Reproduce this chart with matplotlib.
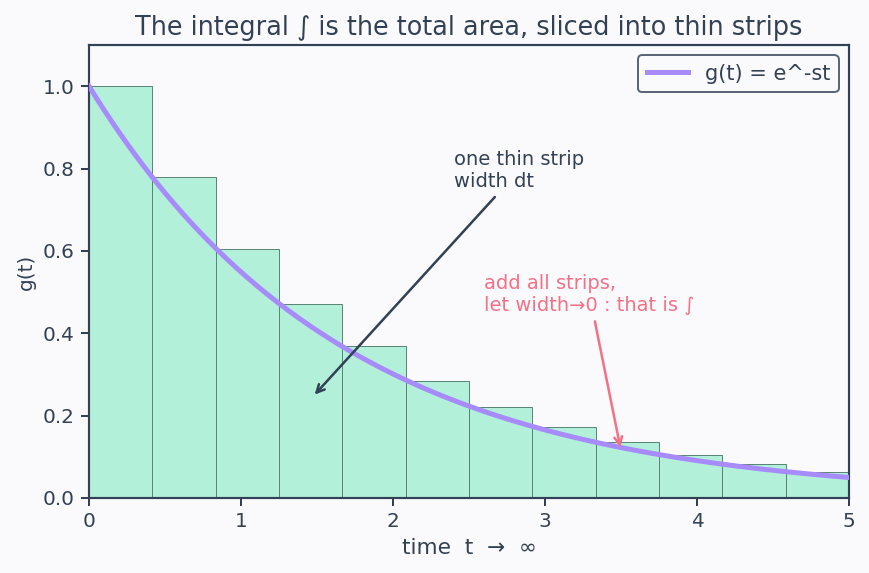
import numpy as np
import matplotlib
matplotlib.use("Agg")
import matplotlib.pyplot as plt

# strips: left edges in t and heights
strip_width = 5 / 12
strip_left = np.arange(12) * strip_width
strip_height = [1.0, 0.78, 0.605, 0.47, 0.37, 0.285, 0.222, 0.173, 0.135, 0.105, 0.082, 0.064]

# the curve g(t) = e^-st with s = 0.6
s = 0.6
t = np.linspace(0, 5, 300)
g = np.exp(-s * t)

dark = "#334155"
pink = "#f47185"
bg = "#fafafd"

fig = plt.figure(figsize=(869 / 120, 573 / 120), dpi=120, facecolor=bg)
ax = fig.add_axes([0.1024, 0.1309, 0.8746, 0.7906], facecolor=bg)

ax.bar(strip_left, strip_height, width=strip_width, align="edge",
       color="#b3f0da", edgecolor="#5b8576", linewidth=0.6, zorder=1)
ax.plot(t, g, color="#a78bfa", lw=3, label="g(t) = e^-st", zorder=3)

ax.annotate("one thin strip\nwidth dt", xy=(1.47, 0.245), xytext=(2.4, 0.745),
            ha="left", va="bottom", fontsize=11.7, color=dark,
            arrowprops=dict(arrowstyle="->", color=dark, lw=1.5))
ax.annotate("add all strips,\nlet width→0 : that is ∫", xy=(3.5, 0.115), xytext=(2.6, 0.445),
            ha="left", va="bottom", fontsize=11.7, color=pink,
            arrowprops=dict(arrowstyle="->", color=pink, lw=1.5))

ax.set_xlim(0, 5)
ax.set_ylim(0, 1.1)
ax.set_yticks([0.0, 0.2, 0.4, 0.6, 0.8, 1.0])
ax.set_title("The integral ∫ is the total area, sliced into thin strips", fontsize=15.3, color=dark)
ax.set_xlabel("time  t  →  ∞", fontsize=13, color=dark)
ax.set_ylabel("g(t)", fontsize=12, color=dark)
ax.tick_params(colors=dark, labelsize=12, width=1.2, length=5)
for sp in ax.spines.values():
    sp.set_color(dark)
    sp.set_linewidth(1.3)

leg = ax.legend(loc="upper right", fontsize=12.5, frameon=True, fancybox=True)
leg.get_frame().set_edgecolor(dark)
leg.get_frame().set_linewidth(1.2)
leg.get_frame().set_facecolor(bg)
for txt in leg.get_texts():
    txt.set_color(dark)

fig.savefig("out.png", dpi=120, facecolor=bg)
